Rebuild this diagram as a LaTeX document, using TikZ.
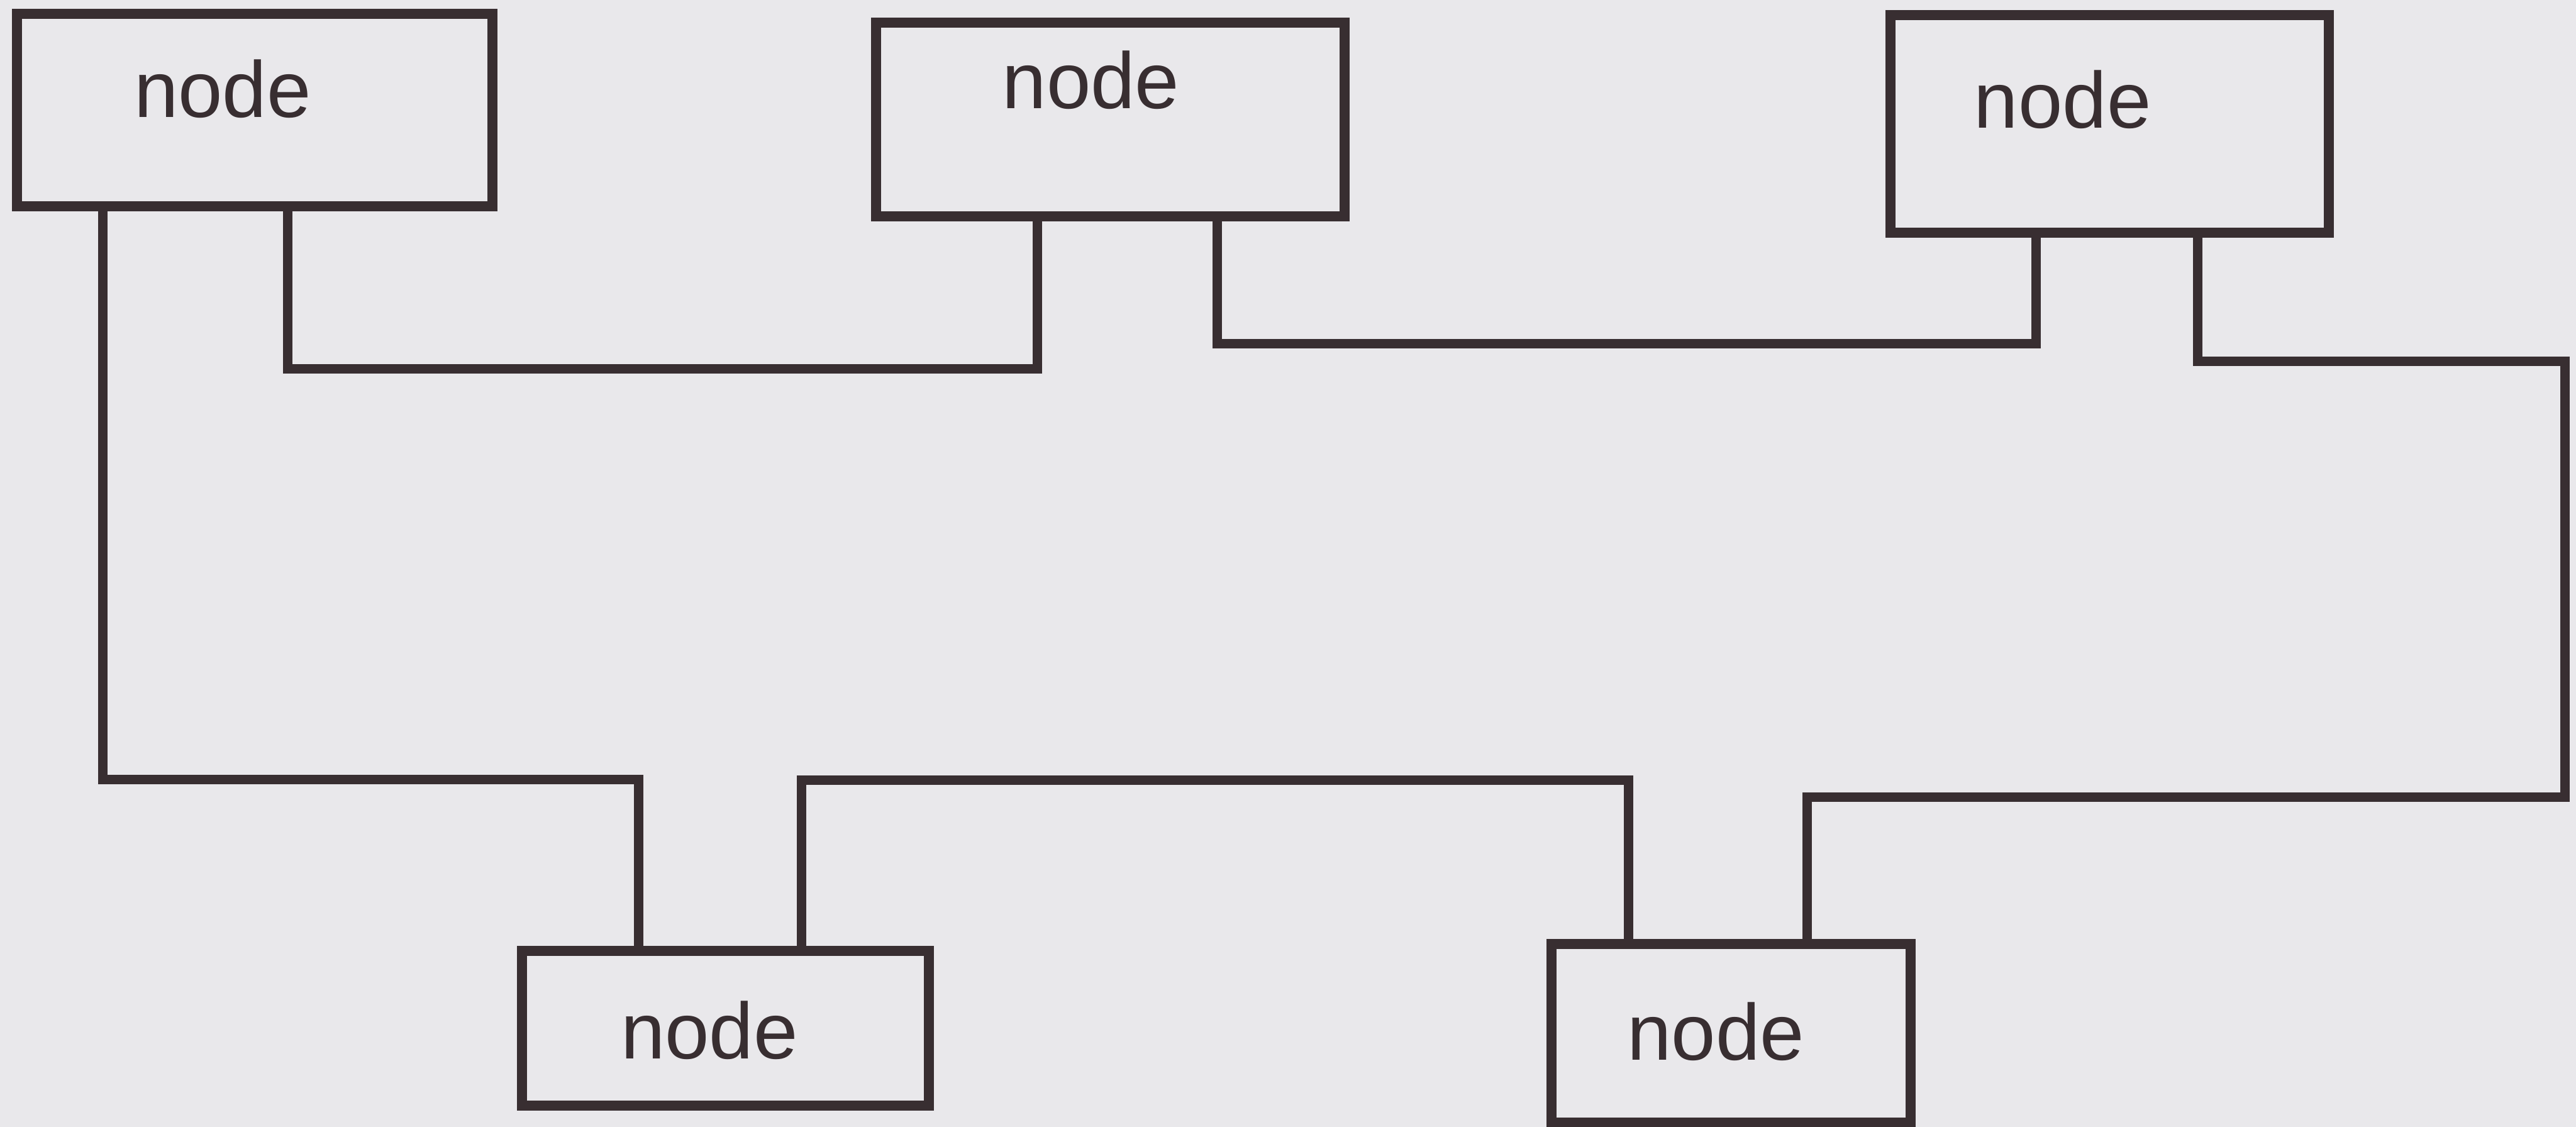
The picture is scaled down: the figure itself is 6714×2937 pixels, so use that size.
\documentclass[tikz,border=0pt]{standalone}
\usepackage{fontspec}
\setmainfont{Liberation Sans}
\definecolor{paper}{HTML}{E9E8EB}
\definecolor{ink}{HTML}{382E31}
\begin{document}
\begin{tikzpicture}[x=0.01cm,y=-0.01cm,
  box/.style={draw=ink, line width=7.5pt, inner sep=0pt, outer sep=0pt},
  wire/.style={draw=ink, line width=7pt, line join=miter},
  lbl/.style={text=ink, anchor=base, inner sep=0pt, font=\fontsize{59}{62}\selectfont}]
\useasboundingbox (0,0) rectangle (6714,2937);
\fill[paper] (0,0) rectangle (6714,2937);

% boxes
\node[box, minimum width=12.38cm, minimum height=5.02cm] (tl) at (664,287) {};
\node[box, minimum width=12.21cm, minimum height=5.04cm] (tm) at (2893.5,311) {};
\node[box, minimum width=11.42cm, minimum height=5.67cm] (tr) at (5498,323.5) {};
\node[box, minimum width=10.60cm, minimum height=4.02cm] (bl) at (1891,2680) {};
\node[box, minimum width=9.36cm, minimum height=4.65cm] (br) at (4512,2692.5) {};

% labels
\node[lbl] (tlt) at (580,306) {node};
\node[lbl] (tmt) at (2843,283) {node};
\node[lbl] (trt) at (5376,333) {node};
\node[lbl] (blt) at (1849,2760) {node};
\node[lbl] (brt) at (4472,2763) {node};

% turning points
\coordinate (a1) at (268,2031);
\coordinate (a2) at (1665,2031);
\coordinate (b1) at (750,962);
\coordinate (b2) at (2703,962);
\coordinate (c1) at (3173,896);
\coordinate (c2) at (5307,896);
\coordinate (d1) at (5728,942);
\coordinate (d2) at (6685,942);
\coordinate (d3) at (6685,2077);
\coordinate (d4) at (4710,2077);
\coordinate (e1) at (2089,2034);
\coordinate (e2) at (4245,2034);

% connectors
\draw[wire] (tl.south -| a1) -- (a1) -- (a2) -- (bl.north -| a2);
\draw[wire] (tl.south -| b1) -- (b1) -- (b2) -- (tm.south -| b2);
\draw[wire] (tm.south -| c1) -- (c1) -- (c2) -- (tr.south -| c2);
\draw[wire] (tr.south -| d1) -- (d1) -- (d2) -- (d3) -- (d4) -- (br.north -| d4);
\draw[wire] (bl.north -| e1) -- (e1) -- (e2) -- (br.north -| e2);
\end{tikzpicture}
\end{document}
